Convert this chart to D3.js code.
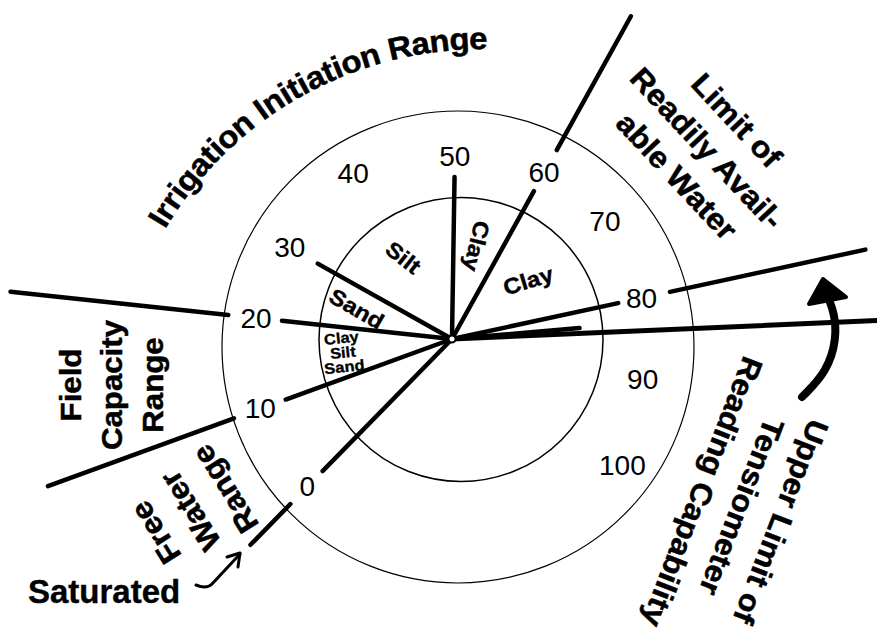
<!DOCTYPE html>
<html><head><meta charset="utf-8">
<script src="https://cdn.jsdelivr.net/npm/d3@7"></script>
<style>
body{margin:0;background:#fff}
svg{display:block}
text{font-family:"Liberation Sans",Arial,Helvetica,sans-serif;fill:#000}
</style></head>
<body><svg id="chart" width="877" height="635"></svg>
<script>
// ---------------- data ----------------
const dialTicks   = [0, 10, 20, 30, 40, 50, 60, 70, 80, 90, 100];
const tickLabels  = ["0","10","20","30","40","50","60","70","80","90","100"];
const needleValues   = [0, 10, 20, 30, 50, 60, 80, 83];
const boundaryValues = [0, 10, 20, 60, 80];
const upperLimitValue = 84;
const soilFrom  = [10, 20, 30, 50, 60];
const soilTo    = [20, 30, 50, 60, 80];
const soilNames = [["Clay","Silt","Sand"], ["Sand"], ["Silt"], ["Clay"], ["Clay"]];
const rangeNames = [
  ["Free","Water","Range"],
  ["Field","Capacity","Range"],
  ["Irrigation Initiation Range"],
  ["Limit of","Readily Avail-","able Water"],
  ["Upper Limit of","Tensiometer","Reading Capability"]
];
const saturatedLabel = "Saturated";

// ---------------- layout ----------------
const svg = d3.select("#chart");
const C0 = {x: 452, y: 339};                    // needle hub
const outerC = {x: 458, y: 347, r: 236};
const innerC = {x: 461, y: 339.5, r: 142};

const angle = d3.scaleLinear().domain(dialTicks)
  .range([-135.6, -110, -83.9, -60.7, -30.8, 0.9, 29, 52.4, 77.8, 102.1, 126.5]);
const labelRadius = d3.scaleLinear().domain(dialTicks)
  .range([207, 204, 197, 186, 193, 183, 190, 193, 194, 195, 212]);
const needleReach = {0:185, 10:177, 20:171, 30:154, 50:162, 60:169, 80:170, 83:128};
const boundaryReach = {0:[231,288], 10:[232,430], 20:[225,444], 60:[216,369], 80:[223,423]};

function polar(v, r) {
  const a = angle(v) * Math.PI / 180;
  return [C0.x + r * Math.sin(a), C0.y - r * Math.cos(a)];
}

// circles
svg.append("circle").attr("cx", outerC.x).attr("cy", outerC.y).attr("r", outerC.r)
  .attr("fill", "none").attr("stroke", "#000").attr("stroke-width", 1.2);
svg.append("circle").attr("cx", innerC.x).attr("cy", innerC.y).attr("r", innerC.r)
  .attr("fill", "none").attr("stroke", "#000").attr("stroke-width", 1.5);

// tick labels
svg.append("g").selectAll("text").data(dialTicks).join("text")
  .attr("x", d => polar(d, labelRadius(d))[0])
  .attr("y", d => polar(d, labelRadius(d))[1])
  .attr("text-anchor", "middle").attr("dominant-baseline", "central")
  .attr("font-size", 28)
  .text((d, i) => tickLabels[i]);

// needles
const lineG = svg.append("g").attr("stroke", "#000").attr("stroke-linecap", "round");
lineG.selectAll("line.needle").data(needleValues).join("line").attr("class", "needle")
  .attr("x1", C0.x).attr("y1", C0.y)
  .attr("x2", d => polar(d, needleReach[d])[0])
  .attr("y2", d => polar(d, needleReach[d])[1])
  .attr("stroke-width", 4.5);

// range boundaries
lineG.selectAll("line.bound").data(boundaryValues).join("line").attr("class", "bound")
  .attr("x1", d => polar(d, boundaryReach[d][0])[0])
  .attr("y1", d => polar(d, boundaryReach[d][0])[1])
  .attr("x2", d => polar(d, boundaryReach[d][1])[0])
  .attr("y2", d => polar(d, boundaryReach[d][1])[1])
  .attr("stroke-width", 4.5);

// upper limit line
lineG.append("line")
  .attr("x1", C0.x).attr("y1", C0.y)
  .attr("x2", polar(upperLimitValue, 460)[0]).attr("y2", polar(upperLimitValue, 460)[1])
  .attr("stroke-width", 5);

// hub
svg.append("circle").attr("cx", C0.x).attr("cy", C0.y).attr("r", 3.5)
  .attr("fill", "#fff").attr("stroke", "#000").attr("stroke-width", 2);

// multi-line rotated text helper
function block(lines, o) {
  const g = svg.append("g")
    .attr("transform", `translate(${o.x},${o.y}) rotate(${o.rot}) scale(${o.sx},1)`);
  const t = g.append("text").attr("text-anchor", "middle")
    .attr("font-size", o.size).attr("font-weight", "bold")
    .attr("stroke", "#000").attr("stroke-width", o.sw || 0);
  const n = lines.length;
  lines.forEach((s, i) => {
    t.append("tspan").attr("x", 0)
      .attr("y", (i - (n - 1) / 2) * o.lh + 0.36 * o.size)
      .text(s);
  });
}

// soil sector labels
const soilLayout = [
  {r: 110, rot: -6, size: 15, sx: 1.1, lh: 14.5, sw: 0.3},
  {r: 100, rot: 30, size: 22, sx: 1.1, lh: 20, sw: 0.4},
  {r: 95,  rot: 38, size: 22, sx: 1.1, lh: 20, sw: 0.4},
  {r: 96,  rot: 104, size: 22, sx: 1.1, lh: 20, sw: 0.4},
  {r: 96,  rot: -17, size: 22, sx: 1.1, lh: 20, sw: 0.4}
];
soilNames.forEach((names, i) => {
  const mid = (soilFrom[i] + soilTo[i]) / 2;
  const p = polar(mid, soilLayout[i].r);
  block(names, Object.assign({x: p[0], y: p[1]}, soilLayout[i]));
});

// range labels (straight blocks)
block(rangeNames[0], {x: 190, y: 511, rot: -122, size: 30, sx: 1.06, lh: 41, sw: 0.5});
block(rangeNames[1], {x: 111, y: 385, rot: -90,  size: 30, sx: 1.04, lh: 41, sw: 0.5});
block(rangeNames[3], {x: 707, y: 148, rot: 47,   size: 30, sx: 1.07, lh: 41, sw: 0.5});
block(rangeNames[4], {x: 742, y: 507, rot: 111,  size: 30, sx: 1.06, lh: 42, sw: 0.5});

// curved label
(function arcText(str, cx, cy, r, midDeg, size, sx) {
  const tmp = svg.append("text").attr("font-size", size).attr("font-weight", "bold")
    .attr("xml:space", "preserve").text(str);
  const node = tmp.node();
  const widths = [];
  for (let i = 0; i < str.length; i++) widths.push(node.getSubStringLength(i, 1) * sx);
  tmp.remove();
  const total = d3.sum(widths);
  const start = midDeg * Math.PI / 180 - (total / 2) / r;
  let cum = 0;
  const g = svg.append("g");
  for (let i = 0; i < str.length; i++) {
    const a = start + (cum + widths[i] / 2) / r;
    cum += widths[i];
    if (str[i] === " ") continue;
    const x = cx + r * Math.sin(a), y = cy - r * Math.cos(a);
    g.append("text")
      .attr("transform", `translate(${x},${y}) rotate(${a * 180 / Math.PI}) scale(${sx},1)`)
      .attr("text-anchor", "middle").attr("y", 0.36 * size)
      .attr("font-size", size).attr("font-weight", "bold")
      .attr("stroke", "#000").attr("stroke-width", 0.5).text(str[i]);
  }
})(rangeNames[2][0], 482, 418, 380, -29.2, 31, 1.06);

// Saturated label and arrow
svg.append("text").attr("x", 28).attr("y", 603).attr("font-size", 33)
  .attr("font-weight", "bold").attr("stroke", "#000").attr("stroke-width", 0.4)
  .text(saturatedLabel);
svg.append("path").attr("d", "M196,585 C203,588 208,588 212,584 L240,554")
  .attr("fill", "none").attr("stroke", "#000").attr("stroke-width", 3)
  .attr("stroke-linecap", "round").attr("stroke-linejoin", "round");
svg.append("path").attr("d", "M227,557 L240,553 L238,567")
  .attr("fill", "none").attr("stroke", "#000").attr("stroke-width", 3)
  .attr("stroke-linecap", "round").attr("stroke-linejoin", "round");

// curved arrow toward upper limit
const arrowPts = [[802, 397], [827, 372], [837, 338], [834, 312], [829, 300]];
svg.append("path").attr("d", d3.line().curve(d3.curveBasis)(arrowPts))
  .attr("fill", "none").attr("stroke", "#000").attr("stroke-width", 8)
  .attr("stroke-linecap", "round");
svg.append("path").attr("d", "M823,279 L846,297 L809,304 Z")
  .attr("fill", "#000").attr("stroke", "#000").attr("stroke-width", 4)
  .attr("stroke-linejoin", "round");
</script></body></html>
